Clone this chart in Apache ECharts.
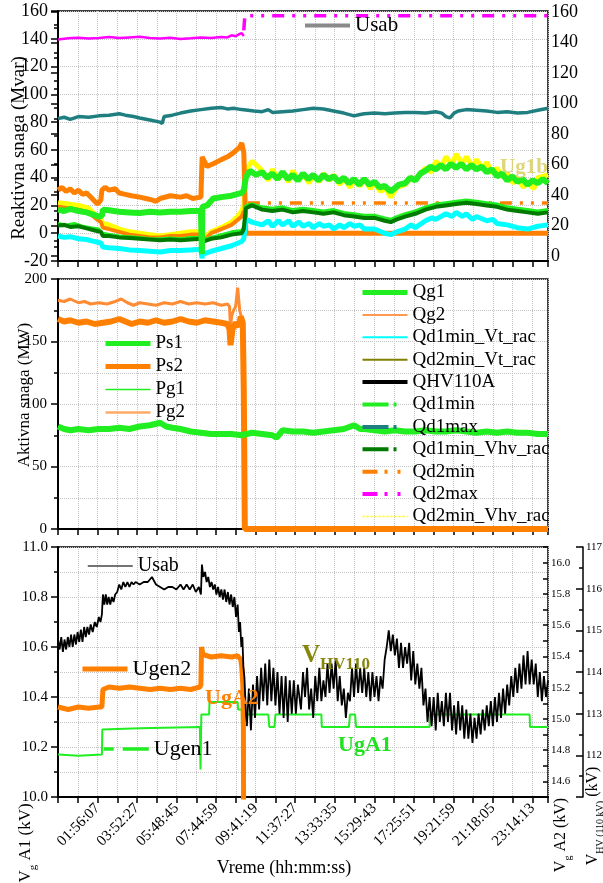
<!DOCTYPE html>
<html>
<head>
<meta charset="utf-8">
<script src="https://cdn.jsdelivr.net/npm/echarts@6/dist/echarts.min.js"></script>
<style>
  html, body { margin: 0; padding: 0; background: #fff; }
  #grafico { width: 603px; height: 883px; }
</style>
</head>
<body>
<div id="grafico"></div>
<script>
// vrijeme u satima (0-24), oznake osi svakih ~1:56:10
const korakOsi = 0.9682;
const vremenskeOznake = ["01:56:07", "03:52:27", "05:48:45", "07:44:59", "09:41:19", "11:37:27",
  "13:33:35", "15:29:43", "17:25:51", "19:21:59", "21:18:05", "23:14:13"];

// ---- Reaktivna snaga (Mvar) ----
const qd2maxPrije = [[0,139.5],[0.5,140.3],[1,140.8],[1.5,140.2],[2,140.6],[2.5,141.2],[3,140.5],[3.5,141],[4,141.4],[4.5,140.6],[5,140.2],[5.5,140.8],[6,139.8],[6.5,140.3],[7,141],[7.5,140.6],[8,141.2],[8.3,141],[8.5,142.5],[8.7,141.8],[8.9,143.5],[9.0,144],[9.1,142]];
const qd2maxPoslije = [[9.1,146],[9.15,156.5],[24,156.5]];
const qd1max = [[0,82.5],[0.3,83.5],[0.6,82],[1,84],[1.5,83.5],[2,84.5],[2.5,85],[3,86],[3.3,85],[3.7,84],[4,83],[4.5,81.5],[5,80],[5.1,79],[5.2,84],[5.6,85],[6,86.5],[6.5,88],[7,89],[7.5,90],[8,90.5],[8.3,89.5],[8.6,90],[9,89],[9.3,88.5],[9.6,88],[10,87.5],[10.3,89],[10.5,87],[11,87.5],[11.5,88],[12,89],[12.5,90],[13,89.5],[13.5,88],[14,86.5],[14.5,84.5],[14.8,85.5],[15,86],[15.5,86.5],[16,86],[16.5,86.5],[17,87],[17.5,87],[18,86.5],[18.5,87.5],[18.8,86.5],[19,84],[19.2,83],[19.4,86.5],[19.6,88],[20,89],[20.5,88.5],[21,88],[21.5,87],[22,87.5],[22.5,86.5],[23,87],[23.5,88.5],[24,90]];
const qd2minVhvRac = [[0,22],[0.5,21],[1,20],[1.5,18],[1.9,12],[2.1,10],[2.2,7],[2.5,6],[3,3],[3.5,1],[4,0],[4.5,-1],[5,-2],[5.5,-1],[6,0],[6.5,1],[7,1],[7.05,-9],[7.1,-4],[7.5,1],[8,4],[8.5,8],[8.8,12],[9.0,16],[9.1,20],[9.2,45],[9.5,52],[9.8,48],[10,45],[10.3,38],[10.5,46],[10.8,39],[11,44],[11.3,37],[11.5,45],[11.8,38],[12,43],[12.3,36],[12.5,42],[12.8,37],[13,43],[13.3,38],[13.5,42],[13.8,35],[14,40],[14.3,33],[14.5,38],[14.8,34],[15,39],[15.3,32],[15.5,36],[15.8,30],[16,33],[16.3,26],[16.6,33],[17,35],[17.3,40],[17.5,38],[18,47],[18.3,44],[18.5,52],[18.8,48],[19,55],[19.3,49],[19.5,57],[19.8,50],[20,55],[20.3,48],[20.5,53],[20.8,47],[21,51],[21.3,43],[21.5,47],[21.8,40],[22,43],[22.3,36],[22.5,40],[22.8,33],[23,37],[23.3,32],[23.5,40],[24,42]];
const qd2minPrije = [[0,19],[0.5,18],[1,17],[1.5,15],[1.9,10],[2.1,8],[2.2,4],[2.5,3],[3,1],[3.5,-1],[4,-2],[4.5,-3],[5,-3],[5.5,-2],[6,-2],[6.5,-1],[7,-1],[7.05,-7],[7.5,0],[8,3],[8.5,6],[9,12],[9.1,16]];
const qd2minPoslije = [[9.3,21.8],[24,21.8]];
const qg2 = [[0,31],[0.2,33],[0.4,30],[0.6,32],[0.8,29],[1,31],[1.2,28],[1.4,29],[1.6,26],[1.8,23],[1.95,21],[2.1,24],[2.15,31],[2.3,33],[2.5,31],[2.8,32],[3,29],[3.3,28],[3.6,27],[4,26],[4.3,25],[4.6,24],[4.8,23],[5,25],[5.5,27],[6,26],[6.3,27],[6.6,25],[7,26],[7.04,27],[7.06,55],[7.3,48],[7.6,50],[8,53],[8.3,55],[8.6,58],[8.9,62],[9.0,65],[9.1,58],[9.15,30],[9.2,0],[24,0]];
const qd1minVtRac = [[0,-2],[0.3,-3],[0.6,-2.5],[1,-4],[1.4,-4.5],[1.8,-6],[2.1,-7],[2.2,-10],[2.5,-10.5],[3,-11],[3.5,-12],[4,-12.5],[4.5,-13],[5,-13.5],[5.5,-12.5],[6,-12.5],[6.5,-12],[7,-11.5],[7.05,-18],[7.1,-15],[7.5,-13],[8,-11],[8.5,-9],[9,-6],[9.1,-4],[9.2,10],[9.5,8],[10,6],[10.3,9],[10.5,5],[10.8,9],[11,6],[11.3,9],[11.5,5],[11.8,8],[12,5],[12.3,7],[12.5,4],[12.8,7],[13,5],[13.3,6],[13.5,3],[13.8,6],[14,4],[14.3,7],[14.5,5],[14.8,6],[15,3],[15.5,3],[16,0],[16.3,-1],[16.6,1],[17,3],[17.3,6],[17.5,4],[18,9],[18.3,11],[18.5,10],[19,14],[19.3,12],[19.5,15],[19.8,12],[20,14],[20.3,10],[20.5,12],[21,9],[21.3,10],[21.5,7],[22,6],[22.5,4],[23,3],[23.5,5],[24,6]];
const qd2minVtRac = [];
const qhv110a = [];
const qd1min = [[0,7],[0.4,6],[0.8,7],[1.2,5],[1.6,4],[2.0,3],[2.2,0],[2.6,-1],[3,-2],[3.5,-2.5],[4,-3],[4.5,-4],[5,-4],[5.5,-3.5],[6,-4],[6.5,-3],[7,-3],[7.05,-10],[7.1,-5],[7.5,-3],[8,-1],[8.5,1],[9,2],[9.1,5],[9.2,20],[9.5,21],[10,19],[10.5,18],[11,19],[11.5,17],[12,18],[12.5,17],[13,16],[13.5,17],[14,15],[14.5,14],[15,13],[15.5,13],[16,11],[16.3,10],[16.6,12],[17,14],[17.5,16],[18,19],[18.5,21],[19,22],[19.5,23],[20,24],[20.5,23],[21,22],[21.5,21],[22,19],[22.5,18],[23,17],[23.5,16],[24,17]];
const qd1minVhvRac = [[0,5.5],[0.3,6],[0.6,4.5],[1,5],[1.4,3.5],[1.8,2],[2.1,1],[2.2,-2],[2.5,-2],[3,-3],[3.5,-3.5],[4,-4],[4.5,-4.5],[5,-5],[5.5,-4.5],[6,-5],[6.5,-4.5],[7,-4],[7.05,-9],[7.1,-6],[7.5,-4],[8,-3],[8.5,-1],[9,0],[9.1,3],[9.2,18],[9.5,20],[10,17],[10.5,16],[11,17],[11.5,15],[12,16],[12.5,15],[13,14],[13.5,15],[14,13],[14.5,12],[15,11],[15.5,11],[16,9],[16.3,8],[16.6,10],[17,12],[17.5,14],[18,17],[18.5,19],[19,20],[19.5,21],[20,22],[20.5,21],[21,20],[21.5,19],[22,17],[22.5,16],[23,15],[23.5,14],[24,15]];
const qg1 = [[0,17],[0.3,16],[0.6,17.5],[1,16],[1.4,15],[1.8,13],[2.0,12],[2.15,12.5],[2.2,17],[2.5,16.5],[3,15.5],[3.5,15],[4,14.5],[4.5,15.5],[5,15],[5.5,15.5],[6,15.5],[6.5,16],[7,16],[7.03,17],[7.05,-15],[7.07,19],[7.3,20],[7.6,25],[8,26],[8.5,27],[9,29],[9.1,31],[9.2,40],[9.4,45],[9.7,42],[10,44],[10.25,40],[10.5,43],[10.75,39],[11,44],[11.25,39],[11.5,42],[11.75,38],[12,43],[12.25,39],[12.5,42],[12.75,38],[13,42],[13.25,39],[13.5,41],[13.75,37],[14,40],[14.25,36],[14.5,39],[14.75,35],[15,39],[15.25,35],[15.5,37],[15.75,33],[16,34],[16.3,30],[16.7,35],[17,36],[17.25,40],[17.5,38],[17.75,43],[18,45],[18.25,48],[18.5,46],[18.75,49],[19,46],[19.25,50],[19.5,47],[19.75,50],[20,46],[20.25,49],[20.5,46],[20.75,48],[21,44],[21.25,46],[21.5,41],[21.75,43],[22,38],[22.25,41],[22.5,37],[22.75,39],[23,35],[23.25,38],[23.5,36],[23.75,39],[24,36]];

// ---- Aktivna snaga (MW) ----
const pg2 = [[0,183],[0.3,182],[0.6,184],[1,181],[1.3,182],[1.6,180],[2,181],[2.4,180],[2.8,182],[3.1,184],[3.4,181],[3.7,179],[4,181],[4.4,180],[4.8,179],[5.2,181],[5.6,180],[6,182],[6.4,180],[6.8,181],[7.2,180],[7.6,181],[8,179],[8.3,180],[8.4,178],[8.45,160],[8.5,170],[8.6,175],[8.7,178],[8.8,193],[8.9,175],[9.0,168],[9.05,150],[9.1,90],[9.15,0],[24,0]];
const ps2 = [[0,168],[0.3,166],[0.6,167],[1,165],[1.4,166],[1.8,164],[2.2,165],[2.6,166],[3,168],[3.3,166],[3.6,164],[4,166],[4.4,165],[4.8,167],[5.2,165],[5.6,166],[6,168],[6.4,166],[6.8,165],[7.2,167],[7.6,166],[8,165],[8.3,164],[8.4,160],[8.45,147],[8.55,160],[8.7,165],[8.85,162],[8.95,170],[9.05,165],[9.1,110],[9.15,0],[24,0]];
const pg1 = [[0,81],[0.5,79],[1,80],[1.5,80],[2,79],[2.5,81],[3,80],[3.5,81],[4,81],[4.5,84],[5,84],[5.3,81],[5.6,80],[6,79],[6.5,78],[7,76],[7.5,77],[8,75],[8.5,76],[9,77],[9.5,76],[10,77],[10.5,75],[10.7,74],[11,78],[11.5,77],[12,77],[13,78],[14,80],[14.5,82],[15,79],[16,79],[17,79],[18,78],[19,77],[20,78],[21,77],[22,78],[23,76],[24,77]];
const ps1 = [[0,82],[0.3,80],[0.6,79],[1,80],[1.5,79],[2,80],[2.5,80],[3,81],[3.5,80],[4,82],[4.5,83],[5,85],[5.3,82],[5.6,81],[6,80],[6.5,78],[7,77],[7.5,76],[8,76],[8.5,76],[9,75],[9.5,77],[10,76],[10.5,75],[10.7,73],[11,79],[11.5,78],[12,78],[12.5,77],[13,78],[13.5,79],[14,80],[14.5,83],[14.8,80],[15,80],[15.5,79],[16,78],[16.5,79],[17,78],[17.5,78],[18,79],[18.5,78],[19,78],[19.5,79],[20,78],[20.5,77],[21,78],[21.5,77],[22,78],[22.5,77],[23,77],[23.5,76],[24,76]];

// ---- Napon (kV) ----
const usab = [[0,10.63],[0.08,10.59],[0.16,10.64],[0.24,10.58],[0.32,10.63],[0.4,10.59],[0.48,10.64],[0.56,10.60],[0.64,10.65],[0.72,10.60],[0.8,10.65],[0.88,10.61],[0.96,10.66],[1.04,10.62],[1.12,10.67],[1.2,10.62],[1.28,10.68],[1.36,10.64],[1.44,10.68],[1.52,10.65],[1.6,10.69],[1.7,10.66],[1.8,10.70],[1.9,10.68],[2.0,10.72],[2.08,10.70],[2.15,10.73],[2.2,10.81],[2.27,10.77],[2.34,10.81],[2.41,10.77],[2.48,10.80],[2.56,10.77],[2.64,10.80],[2.72,10.78],[2.8,10.81],[2.9,10.82],[3.0,10.85],[3.1,10.83],[3.2,10.86],[3.3,10.84],[3.4,10.86],[3.5,10.84],[3.6,10.86],[3.7,10.85],[3.8,10.86],[4.0,10.85],[4.2,10.86],[4.4,10.86],[4.6,10.88],[4.8,10.85],[5.0,10.84],[5.2,10.83],[5.4,10.84],[5.6,10.84],[5.8,10.83],[6.0,10.85],[6.15,10.83],[6.3,10.85],[6.45,10.83],[6.6,10.85],[6.75,10.82],[6.9,10.84],[7.0,10.81],[7.05,10.93],[7.12,10.88],[7.2,10.90],[7.28,10.86],[7.36,10.88],[7.44,10.84],[7.52,10.86],[7.6,10.83],[7.68,10.85],[7.76,10.81],[7.84,10.84],[7.92,10.80],[8.0,10.83],[8.08,10.79],[8.16,10.83],[8.24,10.78],[8.32,10.82],[8.4,10.77],[8.48,10.81],[8.56,10.76],[8.64,10.80],[8.72,10.72],[8.8,10.77],[8.86,10.66],[8.92,10.70],[8.98,10.60],[9.03,10.64],[9.08,10.52],[9.13,10.48],[9.18,10.38],[9.22,10.32],[9.25,10.30]];
const vhv110 = [[9.25,112.7],[9.35,113.6],[9.45,112.6],[9.55,113.7],[9.65,112.9],[9.75,113.9],[9.85,113.1],[9.95,114.1],[10.05,113.3],[10.15,114.2],[10.25,113.2],[10.35,114.3],[10.45,113.3],[10.55,114.1],[10.65,113.2],[10.75,114.0],[10.85,113.0],[10.95,113.9],[11.05,112.9],[11.15,113.9],[11.25,112.8],[11.35,113.8],[11.45,113.0],[11.55,113.8],[11.65,113.0],[11.75,113.7],[11.9,113.1],[12.0,114.0],[12.1,113.4],[12.2,114.1],[12.3,113.1],[12.4,113.6],[12.5,112.9],[12.6,113.9],[12.7,113.3],[12.8,114.1],[12.9,113.3],[13.0,113.8],[13.1,113.4],[13.2,114.2],[13.3,113.5],[13.4,114.2],[13.5,113.6],[13.6,114.3],[13.7,113.3],[13.8,113.9],[13.9,113.2],[14.0,113.6],[14.1,112.9],[14.2,113.5],[14.3,113.3],[14.4,114.1],[14.5,113.4],[14.6,114.2],[14.7,113.5],[14.8,114.1],[14.9,113.5],[15.0,114.1],[15.1,113.4],[15.2,114.0],[15.3,113.3],[15.4,114.0],[15.5,113.4],[15.6,113.9],[15.7,113.3],[15.8,113.9],[15.9,113.6],[16.0,114.3],[16.1,114.6],[16.2,115.0],[16.3,114.5],[16.4,114.9],[16.5,114.4],[16.6,114.8],[16.7,114.1],[16.8,114.7],[16.9,114.1],[17.0,114.6],[17.1,114.2],[17.2,114.7],[17.3,113.8],[17.4,114.5],[17.5,113.7],[17.6,114.2],[17.7,113.6],[17.8,114.1],[17.9,113.2],[18.0,113.6],[18.1,112.8],[18.2,113.4],[18.3,112.7],[18.4,113.4],[18.5,112.6],[18.6,113.5],[18.7,112.8],[18.8,113.3],[18.9,112.7],[19.0,113.5],[19.1,112.8],[19.2,113.5],[19.3,112.6],[19.4,113.2],[19.5,112.5],[19.6,113.3],[19.7,112.6],[19.8,113.2],[19.9,112.4],[20.0,113.1],[20.1,112.4],[20.2,113.0],[20.3,112.3],[20.4,112.9],[20.5,112.4],[20.6,113.0],[20.7,112.5],[20.8,113.1],[20.9,112.6],[21.0,113.2],[21.1,112.7],[21.2,113.3],[21.3,112.7],[21.4,113.4],[21.5,112.8],[21.6,113.5],[21.7,112.9],[21.8,113.6],[21.9,113.0],[22.0,113.7],[22.1,113.2],[22.2,113.9],[22.3,113.4],[22.4,114.1],[22.5,113.5],[22.6,114.2],[22.7,113.6],[22.8,114.4],[22.9,113.7],[23.0,114.5],[23.1,113.7],[23.2,114.3],[23.3,113.7],[23.4,114.2],[23.5,113.4],[23.6,114.0],[23.7,113.3],[23.8,113.9],[23.9,113.4],[24.0,113.8]];
const ugen2 = [[0,10.36],[0.5,10.35],[1,10.36],[1.5,10.355],[2.0,10.36],[2.15,10.36],[2.2,10.43],[2.5,10.44],[3,10.435],[3.5,10.44],[4,10.435],[4.5,10.43],[5,10.435],[5.5,10.43],[6,10.435],[6.5,10.43],[6.95,10.44],[7.0,10.45],[7.03,10.60],[7.1,10.57],[7.5,10.56],[8,10.565],[8.5,10.56],[8.8,10.565],[8.95,10.55],[9.0,10.52],[9.05,10.45],[9.08,10.30],[9.12,9.0]];
const ugen1 = [[0,10.17],[1,10.165],[2.15,10.17],[2.17,10.27],[4,10.275],[6.95,10.28],[6.98,10.11],[7.02,10.33],[7.4,10.33],[7.42,10.38],[8.8,10.38],[8.82,10.35],[9.0,10.35],[9.02,10.22],[9.2,10.33],[10.3,10.33],[10.35,10.28],[10.6,10.28],[10.65,10.33],[12.9,10.33],[12.92,10.28],[14.25,10.28],[14.3,10.33],[14.55,10.33],[14.6,10.28],[18.2,10.28],[18.22,10.33],[23.1,10.33],[23.12,10.28],[24,10.28]];

const FONT = "Liberation Serif";
const mreza = { color: "#c4c4c4", type: "dotted", width: 1 };

function oznakaVremena(v) {
  const k = Math.round(v / korakOsi);
  if (k === 0 || k % 2 !== 0) return "";
  return vremenskeOznake[k / 2 - 1] || "";
}

function xOs(gridIndex, saOznakama, vidljiva) {
  return {
    type: "value", gridIndex: gridIndex, min: 0, max: 24, interval: korakOsi, show: vidljiva,
    axisLine: { show: true, onZero: false, lineStyle: { color: "#000", width: 2 } },
    axisTick: { show: true, inside: false, length: 6, lineStyle: { color: "#000", width: 1.5 } },
    axisLabel: { show: saOznakama, rotate: 45, margin: 9, fontFamily: FONT, fontSize: 15, color: "#000", formatter: oznakaVremena, hideOverlap: false },
    splitLine: { show: true, lineStyle: mreza },
  };
}

function linija(ime, data, os, boja, debljina, dodatno) {
  return Object.assign({
    type: "line", name: ime, data: data, xAxisIndex: os, yAxisIndex: os,
    symbol: "none", showSymbol: false, animation: false, silent: true, clip: true,
    emphasis: { disabled: true },
    lineStyle: { color: boja, width: debljina },
    itemStyle: { color: boja },
  }, dodatno || {});
}

function legenda(podaci, lijevo, gore, velicina, razmak) {
  return {
    // bez kruzica na ikoni, samo linija
    data: podaci.map((p) => Object.assign({ itemStyle: { opacity: 0, color: "transparent", borderWidth: 0 } }, p)),
    orient: "vertical", left: lijevo, top: gore, padding: 0,
    itemWidth: 45, itemHeight: velicina, itemGap: razmak, selectedMode: false,
    textStyle: { fontFamily: FONT, fontSize: velicina, color: "#000" },
  };
}

function tekst(x, y, sadrzaj, stil, rotacija) {
  return {
    type: "text", x: x, y: y, rotation: rotacija || 0, z: 100, silent: true,
    style: Object.assign({ text: sadrzaj, fontFamily: FONT, fill: "#000", align: "center", verticalAlign: "middle" }, stil),
  };
}

const grafikon = echarts.init(document.getElementById("grafico"), null, { renderer: "canvas" });

const okvir = { show: true, borderColor: "#000", borderWidth: 1.5, backgroundColor: "transparent", outerBoundsMode: "none" };

const option = {
  backgroundColor: "#fff",
  animation: false,
  grid: [
    Object.assign({ left: 58, right: 55, top: 11, height: 250 }, okvir),
    { left: 58, right: 55, top: 12, height: 244, show: false, outerBoundsMode: "none" },
    Object.assign({ left: 58, right: 55, top: 279, height: 250 }, okvir),
    Object.assign({ left: 58, right: 55, top: 547, height: 250 }, okvir),
  ],
  xAxis: [xOs(0, false, true), xOs(1, false, false), xOs(2, false, true), xOs(3, true, true)],
  yAxis: [
    {
      type: "value", gridIndex: 0, min: -20, max: 160, interval: 20,
      axisLine: { show: true, lineStyle: { color: "#000", width: 2 } },
      axisTick: { show: true, length: 7, lineStyle: { color: "#000", width: 1.5 } },
      minorTick: { show: true, splitNumber: 2, length: 4, lineStyle: { color: "#000", width: 1.5 } },
      axisLabel: { fontFamily: FONT, fontSize: 18, color: "#000", margin: 10 },
      splitLine: { show: true, lineStyle: mreza },
    },
    {
      type: "value", gridIndex: 1, position: "right", min: 0, max: 160, interval: 20,
      axisLine: { show: false },
      axisTick: { show: true, inside: true, length: 7, lineStyle: { color: "#000", width: 1.5 } },
      minorTick: { show: true, splitNumber: 2, length: 4, lineStyle: { color: "#000", width: 1.5 } },
      axisLabel: { fontFamily: FONT, fontSize: 18, color: "#000", margin: 3 },
      splitLine: { show: false },
    },
    {
      type: "value", gridIndex: 2, min: 0, max: 200, interval: 50,
      axisLine: { show: true, lineStyle: { color: "#000", width: 2 } },
      axisTick: { show: true, length: 7, lineStyle: { color: "#000", width: 1.5 } },
      minorTick: { show: true, splitNumber: 2, length: 4, lineStyle: { color: "#000", width: 1.5 } },
      axisLabel: { fontFamily: FONT, fontSize: 15, color: "#000", margin: 11 },
      splitLine: { show: true, lineStyle: mreza },
      minorSplitLine: { show: true, lineStyle: mreza },
    },
    {
      type: "value", gridIndex: 3, min: 10, max: 11, interval: 0.2,
      axisLine: { show: true, lineStyle: { color: "#000", width: 2 } },
      axisTick: { show: true, length: 7, lineStyle: { color: "#000", width: 1.5 } },
      minorTick: { show: true, splitNumber: 2, length: 4, lineStyle: { color: "#000", width: 1.5 } },
      axisLabel: { fontFamily: FONT, fontSize: 15, color: "#000", margin: 10, formatter: (v) => v.toFixed(1) },
      splitLine: { show: true, lineStyle: mreza },
      minorSplitLine: { show: true, lineStyle: mreza },
    },
    {
      type: "value", gridIndex: 3, position: "right", min: 14.5, max: 16.1, interval: 0.1,
      axisLine: { show: false },
      axisTick: { show: true, inside: true, length: 5, lineStyle: { color: "#000", width: 1.5 } },
      axisLabel: {
        fontFamily: FONT, fontSize: 11, color: "#000", margin: 3, showMinLabel: true, showMaxLabel: true,
        formatter: (v) => (Math.round(v * 10) % 2 === 0 && v < 16.05 ? v.toFixed(1) : ""),
      },
      splitLine: { show: false },
    },
    {
      type: "value", gridIndex: 3, position: "right", offset: 35, min: 111, max: 117, interval: 1,
      axisLine: { show: true, lineStyle: { color: "#000", width: 1.5 } },
      axisTick: { show: true, inside: true, length: 7, lineStyle: { color: "#000", width: 1.5 } },
      minorTick: { show: true, splitNumber: 2, length: 4, lineStyle: { color: "#000", width: 1.5 } },
      axisLabel: { fontFamily: FONT, fontSize: 11, color: "#000", margin: 3, formatter: (v) => (v === 111 ? "" : String(v)) },
      splitLine: { show: false },
    },
  ],
  legend: [
    legenda([{ name: "Usab", lineStyle: { color: "#8a8a8a", width: 4 } }], 303, 15, 21, 0),
    legenda([
      { name: "Ps1", lineStyle: { color: "#20ee20", width: 5 } },
      { name: "Ps2", lineStyle: { color: "#ff8000", width: 5 } },
      { name: "Pg1", lineStyle: { color: "#20ee20", width: 1.5 } },
      { name: "Pg2", lineStyle: { color: "#ffaa66", width: 2.5 } },
    ], 103, 334, 19, 4),
    legenda([
      { name: "Qg1", lineStyle: { color: "#20ee20", width: 5 } },
      { name: "Qg2", lineStyle: { color: "#ff9a50", width: 2 } },
      { name: "Qd1min_Vt_rac", lineStyle: { color: "#00ffff", width: 2 } },
      { name: "Qd2min_Vt_rac", lineStyle: { color: "#808000", width: 2 } },
      { name: "QHV110A", lineStyle: { color: "#000", width: 4 } },
      { name: "Qd1min", lineStyle: { color: "#20ee20", width: 4, type: [26, 5, 3, 20] } },
      { name: "Qd1max", lineStyle: { color: "#1f7f80", width: 4, type: [26, 5, 3, 20] } },
      { name: "Qd1min_Vhv_rac", lineStyle: { color: "#007a00", width: 4, type: [26, 5, 3, 20] } },
      { name: "Qd2min", lineStyle: { color: "#ff8000", width: 4, type: [15, 7, 3, 10, 3, 20] } },
      { name: "Qd2max", lineStyle: { color: "#ff00ff", width: 4, type: [15, 7, 3, 10, 3, 20] } },
      { name: "Qd2min_Vhv_rac", lineStyle: { color: "#ffff00", width: 1.5, type: [2, 2] } },
    ], 360, 283, 19, 3.4),
    legenda([{ name: "Usab", lineStyle: { color: "#444", width: 1.5 } }], 87, 556, 20, 0),
    legenda([{ name: "Ugen2", lineStyle: { color: "#ff8000", width: 5 } }], 80, 658, 22, 0),
    legenda([{ name: "Ugen1", lineStyle: { color: "#20ee20", width: 3.5, type: [10, 9, 26, 100] } }], 102, 738, 22, 0),
  ],
  graphic: [
    tekst(19, 148, "Reaktivna snaga (Mvar)", { fontSize: 19 }, Math.PI / 2),
    tekst(25, 395, "Aktivna snaga (MW)", { fontSize: 17 }, Math.PI / 2),
    tekst(28, 843, "{a|V}{s|g}{a| A1 (kV)}", {
      rich: { a: { fontFamily: FONT, fontSize: 17, padding: [0, 0, 5, 0], verticalAlign: "bottom" }, s: { fontFamily: FONT, fontSize: 11, verticalAlign: "bottom" } },
    }, Math.PI / 2),
    tekst(563, 835, "{a|V}{s|g}{a| A2 (kV)}", {
      rich: { a: { fontFamily: FONT, fontSize: 16, padding: [0, 0, 5, 0], verticalAlign: "bottom" }, s: { fontFamily: FONT, fontSize: 10, verticalAlign: "bottom" } },
    }, Math.PI / 2),
    tekst(595, 816, "{a|V}{s|HV (110 kV)}{a| (kV)}", {
      rich: { a: { fontFamily: FONT, fontSize: 16, padding: [0, 0, 5, 0], verticalAlign: "bottom" }, s: { fontFamily: FONT, fontSize: 10, verticalAlign: "bottom" } },
    }, Math.PI / 2),
    tekst(284, 868, "Vreme (hh:mm:ss)", { fontSize: 18 }),
    tekst(500, 168, "Ug1b", { fontSize: 21, fontWeight: "bold", fill: "#d8cf62", align: "left", opacity: 0.85 }),
    tekst(205, 698, "UgA2", { fontSize: 22, fontWeight: "bold", fill: "#ff8000", align: "left" }),
    tekst(302, 658, "{a|V}{s|HV110}", {
      align: "left", fill: "#86860e",
      rich: { a: { fontFamily: FONT, fontSize: 25, fontWeight: "bold", fill: "#86860e", padding: [0, 0, 5, 0], verticalAlign: "bottom" }, s: { fontFamily: FONT, fontSize: 17, fontWeight: "bold", fill: "#86860e", verticalAlign: "bottom" } },
    }),
    tekst(338, 745, "UgA1", { fontSize: 22, fontWeight: "bold", fill: "#20e020", align: "left" }),
  ],
  series: [
    // reaktivna snaga
    linija("Qd2max", qd2maxPoslije, 0, "#ff00ff", 3.5, { lineStyle: { color: "#ff00ff", width: 3.5, type: [12, 8, 3, 8, 3, 8] } }),
    linija("Qd2max", qd2maxPrije, 0, "#ff00ff", 2.5),
    linija("Qd1max", qd1max, 0, "#1f7f80", 3.5),
    linija("Qd2min_Vhv_rac", qd2minVhvRac, 0, "#ffff00", 5),
    linija("Qd2min", qd2minPoslije, 0, "#ff8000", 3.5, { lineStyle: { color: "#ff8000", width: 3.5, type: [12, 8, 3, 8, 3, 8] } }),
    linija("Qd2min", qd2minPrije, 0, "#ff8000", 4),
    linija("Qg2", qg2, 0, "#ff8000", 5),
    linija("Qd2min_Vt_rac", qd2minVtRac, 0, "#808000", 2),
    linija("QHV110A", qhv110a, 0, "#000", 4),
    linija("Qd1min_Vt_rac", qd1minVtRac, 0, "#00ffff", 5),
    linija("Qd1min", qd1min, 0, "#20ee20", 3),
    linija("Qd1min_Vhv_rac", qd1minVhvRac, 0, "#007a00", 4),
    linija("Qg1", qg1, 0, "#20ee20", 6),
    // aktivna snaga
    linija("Pg2", pg2, 2, "#ff8c33", 3),
    linija("Ps2", ps2, 2, "#ff8000", 6),
    linija("Pg1", pg1, 2, "#20ee20", 2),
    linija("Ps1", ps1, 2, "#20ee20", 6),
    // napon
    linija("Ugen1", ugen1, 3, "#20ee20", 2),
    linija("Ugen2", ugen2, 3, "#ff8000", 5),
    linija("Usab", usab, 3, "#000", 1.8),
    linija("VHV110", vhv110, 3, "#000", 1.8, { yAxisIndex: 5 }),
  ],
};

grafikon.setOption(option);
window.addEventListener("resize", grafikon.resize);
</script>
</body>
</html>
